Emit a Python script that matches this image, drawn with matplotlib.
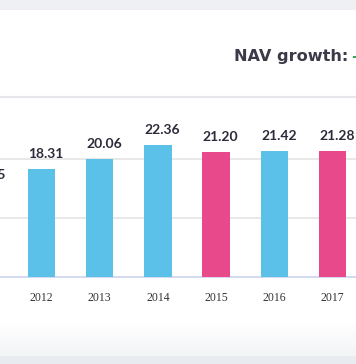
import matplotlib.pyplot as plt
from matplotlib.patches import Rectangle
from matplotlib.colors import LinearSegmentedColormap
import numpy as np

# NAV per year (first bar is cut off at the left edge of the picture)
years = ['2011', '2012', '2013', '2014', '2015', '2016', '2017']
nav = [14.75, 18.31, 20.06, 22.36, 21.20, 21.42, 21.28]
labels = ['14.75', '18.31', '20.06', '22.36', '21.20', '21.42', '21.28']

blue = '#5bc1e8'
pink = '#e8498a'
colors = [blue] + [pink if nav[i] < nav[i - 1] else blue for i in range(1, len(nav))]

W, H = 356, 364
fig = plt.figure(figsize=(W / 100, H / 100), dpi=100)

# page background: top band, header line, bottom fade
bg = fig.add_axes([0, 0, 1, 1])
bg.set_xlim(0, W)
bg.set_ylim(H, 0)
bg.axis('off')
bg.add_patch(Rectangle((0, 0), W, 10, color='#eef0f4', lw=0))
bg.plot([0, W], [97, 97], color='#e6e7ea', lw=1.5)
grad = np.linspace(0, 1, 50).reshape(-1, 1)
fade = LinearSegmentedColormap.from_list('fade', ['#ffffff', '#f2f4f6'])
bg.imshow(grad, extent=(0, W, 356, 322), cmap=fade, aspect='auto', zorder=0)
bg.add_patch(Rectangle((0, 356), W, 8, color='#e8ebef', lw=0))

bg.text(348, 56, 'NAV growth:', ha='right', va='center', fontsize=11.6,
        family='DejaVu Sans', fontweight='bold', color='#3a3a48')
bg.text(351, 56, '-', ha='left', va='center', fontsize=11.6,
        family='DejaVu Sans', fontweight='bold', color='#3aa35a')

# chart
base = 277
top = 98
px_unit = 5.9
step = 58.2
x0 = 41.5  # pixel centre of 2012 bar
ax = fig.add_axes([0, (H - base) / H, 1, (base - top) / H])
ax.set_facecolor('none')

x = np.arange(len(years))
ax.bar(x, nav, width=0.47, color=colors, zorder=3)

for i, v in enumerate(nav):
    ax.annotate(labels[i], (x[i] + 0.077, v), xytext=(0, 10.8), textcoords='offset points',
                ha='center', va='center', fontsize=10, family='Lato', fontweight='bold',
                color='#2b2b3a', annotation_clip=False)

ax.set_yticks([10, 20])
ax.set_yticklabels([])
ax.yaxis.grid(True, color='#e6e6e6', lw=1.3, zorder=0)
ax.tick_params(axis='y', length=0)
ax.set_xticks(x)
ax.set_xticklabels(years, family='Liberation Serif', fontsize=8.5, color='#333333')
ax.tick_params(axis='x', length=0, pad=11)
ax.set_xlim(1 - x0 / step, 1 + (W - x0) / step)
ax.set_ylim(0, (base - top) / px_unit)
for s in ['top', 'right', 'left']:
    ax.spines[s].set_visible(False)
ax.spines['bottom'].set_color('#ccd3ec')
ax.spines['bottom'].set_linewidth(1.2)

fig.savefig('out.png', dpi=100)
